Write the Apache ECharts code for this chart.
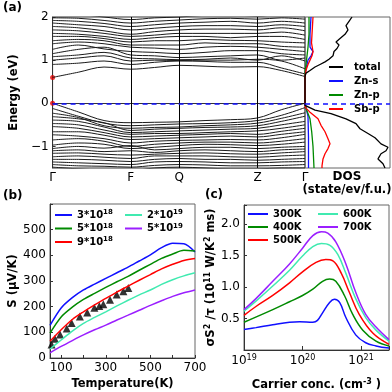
<!DOCTYPE html>
<html>
<head>
<meta charset="utf-8">
<script src="https://cdn.jsdelivr.net/npm/echarts@6/dist/echarts.min.js"></script>
<style>html,body{margin:0;padding:0;background:#fff}#main{width:392px;height:392px}</style>
</head>
<body>
<div id="main"></div>
<script>
// (a) band structure: k path positions and energies (eV)
var kPos = [0, 26, 52, 79, 103, 128, 154, 180, 207, 231, 255];
var kTicks = [0, 79, 128, 207, 255];
var kLabels = ['Γ', 'F', 'Q', 'Z', 'Γ'];
var bands = [
  [0.60, 0.72, 0.84, 0.79, 0.83, 0.88, 0.86, 0.84, 0.85, 0.76, 0.62],
  [0.90, 0.93, 0.98, 0.90, 0.95, 0.98, 0.97, 0.95, 0.95, 0.82, 0.68],
  [1.00, 1.05, 1.10, 0.98, 1.00, 0.99, 1.00, 1.00, 1.02, 0.98, 0.80],
  [1.08, 1.12, 1.18, 1.05, 1.03, 1.01, 1.02, 1.05, 1.00, 1.10, 0.98],
  [1.15, 1.25, 1.30, 1.12, 1.10, 1.06, 1.08, 1.10, 1.12, 1.00, 1.05],
  [1.25, 1.35, 1.26, 1.20, 1.18, 1.15, 1.18, 1.22, 1.22, 1.15, 1.12],
  [1.38, 1.42, 1.38, 1.30, 1.28, 1.25, 1.30, 1.32, 1.30, 1.25, 1.20],
  [1.45, 1.48, 1.45, 1.35, 1.35, 1.35, 1.40, 1.38, 1.38, 1.32, 1.30],
  [1.55, 1.55, 1.50, 1.42, 1.45, 1.45, 1.48, 1.46, 1.45, 1.42, 1.40],
  [1.62, 1.60, 1.55, 1.48, 1.52, 1.55, 1.55, 1.52, 1.55, 1.55, 1.48],
  [1.70, 1.68, 1.62, 1.55, 1.58, 1.62, 1.62, 1.62, 1.62, 1.65, 1.58],
  [1.78, 1.75, 1.68, 1.60, 1.66, 1.70, 1.72, 1.72, 1.70, 1.75, 1.68],
  [1.86, 1.82, 1.78, 1.70, 1.74, 1.78, 1.80, 1.80, 1.78, 1.82, 1.78],
  [1.92, 1.90, 1.85, 1.78, 1.82, 1.86, 1.88, 1.90, 1.86, 1.90, 1.86],
  [1.98, 1.97, 1.92, 1.86, 1.90, 1.93, 1.96, 1.97, 1.95, 1.98, 1.95],
  [2.05, 2.05, 2.00, 1.94, 1.98, 2.00, 2.04, 2.05, 2.02, 2.06, 2.03],
  [0.00, -0.20, -0.40, -0.45, -0.44, -0.43, -0.40, -0.38, -0.34, -0.15, 0.00],
  [-0.12, -0.30, -0.46, -0.52, -0.50, -0.48, -0.47, -0.45, -0.40, -0.28, -0.10],
  [-0.23, -0.33, -0.52, -0.58, -0.56, -0.55, -0.52, -0.50, -0.46, -0.35, -0.22],
  [-0.31, -0.36, -0.45, -0.63, -0.60, -0.58, -0.56, -0.55, -0.52, -0.42, -0.30],
  [-0.39, -0.42, -0.55, -0.68, -0.66, -0.64, -0.62, -0.60, -0.58, -0.50, -0.42],
  [-0.47, -0.50, -0.62, -0.72, -0.70, -0.70, -0.68, -0.66, -0.64, -0.58, -0.50],
  [-0.54, -0.58, -0.68, -0.78, -0.76, -0.74, -0.72, -0.70, -0.72, -0.65, -0.58],
  [-0.66, -0.66, -0.74, -0.84, -0.82, -0.80, -0.78, -0.76, -0.78, -0.72, -0.66],
  [-0.73, -0.76, -0.82, -0.92, -0.88, -0.86, -0.85, -0.84, -0.85, -0.80, -0.72],
  [-0.85, -0.82, -0.88, -1.00, -0.95, -0.92, -0.90, -0.90, -0.92, -0.88, -0.82],
  [-0.97, -0.92, -0.95, -1.05, -1.02, -0.98, -0.95, -0.96, -0.98, -0.95, -0.90],
  [-1.05, -1.00, -1.04, -0.98, -1.08, -1.05, -1.02, -1.02, -1.05, -1.02, -1.00],
  [-1.10, -1.08, -1.12, -1.10, -1.14, -1.10, -1.08, -1.10, -1.12, -1.08, -1.06],
  [-1.16, -1.15, -1.18, -1.20, -1.18, -1.16, -1.15, -1.17, -1.18, -1.15, -1.12],
  [-1.24, -1.22, -1.25, -1.28, -1.22, -1.22, -1.22, -1.24, -1.25, -1.22, -1.20],
  [-1.30, -1.30, -1.32, -1.35, -1.30, -1.28, -1.30, -1.30, -1.32, -1.30, -1.28],
  [-1.36, -1.38, -1.40, -1.42, -1.36, -1.35, -1.36, -1.38, -1.38, -1.36, -1.35],
  [-1.42, -1.45, -1.46, -1.48, -1.44, -1.42, -1.43, -1.45, -1.45, -1.44, -1.42],
  [-1.48, -1.52, -1.55, -1.56, -1.50, -1.48, -1.50, -1.52, -1.52, -1.50, -1.50]
];
var bandEdges = [[0, 0.6], [0, 0]];

// DOS curves (energy, dos)
var totE = [2.0, 1.9, 1.8, 1.7, 1.6, 1.5, 1.42, 1.35, 1.27, 1.2, 1.1, 1.02, 0.96, 0.9, 0.84, 0.76, 0.7, 0.62, 0.0, -0.05, -0.09, -0.16, -0.24, -0.36, -0.47, -0.59, -0.7, -0.8, -0.94, -1.02, -1.1, -1.17, -1.29, -1.4, -1.5];
var totD = [47, 44, 41, 43, 40, 35, 31, 34, 32, 29, 28, 24, 20, 15, 10, 5, 1, 0, 0, 0, 1, 10, 26, 41, 51, 55, 63, 70, 76, 83, 81, 76, 73, 78, 80];
var znsE = [2.0, 1.6, 1.3, 1.2, 1.1, 1.0, 0.8, 0.65, 0.0, -0.1, -0.3, -0.8, -1.5];
var znsD = [6, 5, 5, 8, 6, 3, 1, 0, 0, 1, 3, 3.5, 3.5];
var znpE = [2.0, 1.6, 1.3, 1.1, 0.9, 0.7, 0.0, -0.15, -0.36, -0.66, -1.0, -1.5];
var znpD = [4, 4, 3, 2, 1, 0, 0, 1.5, 5, 6.7, 8, 9];
var sbpE = [2.0, 1.8, 1.6, 1.4, 1.2, 1.1, 1.0, 0.9, 0.8, 0.7, 0.6, 0.0, -0.1, -0.2, -0.36, -0.51, -0.66, -0.82, -0.94, -1.05, -1.17, -1.29, -1.45, -1.5];
var sbpD = [8, 7.5, 7, 6.5, 8, 7, 5, 3, 1.5, 0.5, 0, 0, 0.5, 4.7, 13, 16, 20, 23, 25, 23, 20, 18, 17, 17];

// (b) Seebeck vs temperature
var temps = [50, 100, 150, 200, 250, 300, 350, 400, 450, 500, 550, 600, 650, 700];
var s3e18 = [127, 195, 235, 265, 288, 310, 332, 354, 378, 402, 430, 447, 445, 413];
var s5e18 = [97, 160, 198, 228, 252, 275, 297, 318, 342, 365, 388, 405, 420, 417];
var s9e18 = [65, 110, 150, 180, 207, 232, 257, 280, 303, 325, 347, 365, 380, 388];
var s2e19 = [35, 70, 105, 135, 158, 180, 203, 225, 246, 265, 287, 305, 320, 332];
var s5e19 = [20, 45, 68, 90, 110, 128, 148, 167, 186, 205, 223, 240, 254, 265];
var expT = [57, 72, 95, 125, 147, 184, 217, 249, 271, 289, 319, 349, 379, 401];
var expS = [53, 75, 92, 115, 136, 162, 177, 196, 203, 209, 227, 247, 260, 273];

// (c) power factor vs carrier concentration
var n300 = [1e19, 1.6e19, 3.1e19, 6e19, 8.9e19, 1.5e20, 1.8e20, 2.2e20, 2.9e20, 3.5e20, 4.3e20, 5.5e20, 8.1e20, 1.2e21, 1.8e21, 3e21];
var p300 = [0.325, 0.355, 0.40, 0.44, 0.45, 0.44, 0.47, 0.59, 0.755, 0.805, 0.755, 0.515, 0.24, 0.115, 0.065, 0.03];
var n400 = [1e19, 3.1e19, 6e19, 1e20, 1.5e20, 2.2e20, 2.9e20, 3.7e20, 5.2e20, 7.2e20, 1.07e21, 1.8e21, 3e21];
var p400 = [0.44, 0.64, 0.765, 0.865, 0.965, 1.09, 1.125, 1.09, 0.865, 0.565, 0.315, 0.14, 0.065];
var n500 = [1e19, 1.6e19, 3.1e19, 6e19, 1e20, 1.7e20, 2.5e20, 3.3e20, 4.6e20, 6.3e20, 9.3e20, 1.6e21, 3e21];
var p500 = [0.55, 0.69, 0.865, 1.065, 1.24, 1.39, 1.435, 1.415, 1.215, 0.915, 0.565, 0.265, 0.09];
var n600 = [1e19, 1.6e19, 3.1e19, 6e19, 1e20, 1.5e20, 2.1e20, 2.9e20, 4e20, 5.5e20, 8.1e20, 1.2e21, 1.8e21, 3e21];
var p600 = [0.615, 0.775, 1.015, 1.265, 1.49, 1.64, 1.69, 1.665, 1.515, 1.215, 0.815, 0.515, 0.315, 0.14];
var n700 = [1e19, 1.6e19, 3.1e19, 6e19, 1e20, 1.5e20, 2.1e20, 2.7e20, 3.7e20, 5.5e20, 8.1e20, 1.2e21, 1.8e21, 3e21];
var p700 = [0.64, 0.815, 1.09, 1.365, 1.615, 1.815, 1.875, 1.855, 1.715, 1.365, 0.915, 0.565, 0.365, 0.165];

var FONT = 'DejaVu Sans';
var BLUE = '#1010ff', GREEN = '#008a00', RED = '#ff0000', AQUA = '#40eab0', PURPLE = '#9b1fff';

function pairs(xs, ys) { return xs.map(function (x, i) { return [x, ys[i]]; }); }
function dos(es, ds) { return es.map(function (e, i) { return [ds[i], e]; }); }
function supName(name) { return name.replace(/\^(-?\d+)/g, '{s|$1}'); }

var series = [];
bands.forEach(function (b, i) {
  var s = {
    type: 'line', xAxisIndex: 0, yAxisIndex: 0, data: pairs(kPos, b),
    smooth: 0.35, symbol: 'none', silent: true,
    lineStyle: { color: '#1a1a1a', width: 1 }
  };
  if (i === 0) {
    s.markLine = {
      silent: true, symbol: 'none', label: { show: false },
      data: [
        { xAxis: 79, lineStyle: { color: '#000', width: 1, type: 'solid' } },
        { xAxis: 128, lineStyle: { color: '#000', width: 1, type: 'solid' } },
        { xAxis: 207, lineStyle: { color: '#000', width: 1, type: 'solid' } },
        { yAxis: 0, lineStyle: { color: BLUE, width: 1.5, type: [5, 4] } }
      ]
    };
  }
  series.push(s);
});
series.push({ type: 'scatter', xAxisIndex: 0, yAxisIndex: 0, data: bandEdges, symbolSize: 5, clip: false, itemStyle: { color: '#e00000' }, silent: true });

function dosLine(name, es, ds, color, extra) {
  var s = { name: name, type: 'line', xAxisIndex: 1, yAxisIndex: 1, data: dos(es, ds), symbol: 'none', lineStyle: { color: color, width: 1.3 }, itemStyle: { color: color }, silent: true };
  if (extra) s.markLine = extra;
  return s;
}
series.push(dosLine('Zn-s', znsE, znsD, BLUE));
series.push(dosLine('Zn-p', znpE, znpD, GREEN));
series.push(dosLine('Sb-p', sbpE, sbpD, RED));
series.push(dosLine('total', totE, totD, '#000', {
  silent: true, symbol: 'none', label: { show: false },
  data: [{ yAxis: 0, lineStyle: { color: BLUE, width: 1.5, type: [5, 4] } }]
}));

function tLine(name, ys, color) {
  return { name: name, type: 'line', xAxisIndex: 2, yAxisIndex: 2, data: pairs(temps, ys), smooth: 0.3, symbol: 'none', lineStyle: { color: color, width: 1.5 }, itemStyle: { color: color } };
}
series.push(tLine('3*10^18', s3e18, BLUE));
series.push(tLine('5*10^18', s5e18, GREEN));
series.push(tLine('9*10^18', s9e18, RED));
series.push(tLine('2*10^19', s2e19, AQUA));
series.push(tLine('5*10^19', s5e19, PURPLE));
series.push({ type: 'scatter', xAxisIndex: 2, yAxisIndex: 2, data: pairs(expT, expS), symbol: 'triangle', symbolSize: 8, itemStyle: { color: '#000' } });

function nLine(name, xs, ys, color) {
  return { name: name, type: 'line', xAxisIndex: 3, yAxisIndex: 3, data: pairs(xs, ys), smooth: 0.4, symbol: 'none', lineStyle: { color: color, width: 1.5 }, itemStyle: { color: color } };
}
series.push(nLine('300K', n300, p300, BLUE));
series.push(nLine('400K', n400, p400, GREEN));
series.push(nLine('500K', n500, p500, RED));
series.push(nLine('600K', n600, p600, AQUA));
series.push(nLine('700K', n700, p700, PURPLE));

var tickLbl = { color: '#000', fontSize: 12, fontFamily: FONT };
var nameStyle = { color: '#000', fontSize: 11.5, fontWeight: 'bold', fontFamily: FONT };
var axLine = { show: true, lineStyle: { color: '#333', width: 1 } };
var supRich = { s: { fontSize: 8, fontWeight: 'bold', fontFamily: FONT, color: '#000', verticalAlign: 'top', padding: [0, 0, 6, 0] } };

function legend(names, left, top, w, gap) {
  return {
    data: names, orient: 'vertical', left: left, top: top, icon: 'rect',
    itemWidth: w, itemHeight: 2, itemGap: gap, selectedMode: false, padding: 0,
    formatter: supName,
    textStyle: {
      color: '#000', fontSize: 10, fontWeight: 'bold', fontFamily: FONT, lineHeight: 12,
      rich: { s: { fontSize: 7, fontWeight: 'bold', fontFamily: FONT, verticalAlign: 'top', lineHeight: 12 } }
    }
  };
}

var option = {
  animation: false,
  backgroundColor: '#fff',
  grid: [
    { left: 50, top: 17, width: 255, height: 151, show: true, borderColor: '#333', borderWidth: 1 },
    { left: 305, top: 17, width: 85, height: 151, show: true, borderColor: '#666', borderWidth: 1 },
    { left: 50, top: 204, width: 145, height: 154, show: true, borderColor: '#666', borderWidth: 1 },
    { left: 244, top: 205, width: 146, height: 153, show: true, borderColor: '#666', borderWidth: 1 }
  ],
  xAxis: [
    { type: 'value', gridIndex: 0, min: 0, max: 255, splitLine: { show: false }, axisLine: axLine,
      axisTick: { show: false },
      axisLabel: Object.assign({ customValues: kTicks, margin: 4, formatter: function (v) { return kLabels[kTicks.indexOf(v)]; } }, tickLbl) },
    { type: 'value', gridIndex: 1, min: 0, max: 85, show: false },
    { type: 'value', gridIndex: 2, min: 50, max: 700, splitLine: { show: false }, axisLine: axLine,
      axisTick: { inside: true, length: 3, customValues: [100, 200, 300, 400, 500, 600, 700] },
      axisLabel: Object.assign({ customValues: [100, 300, 500, 700], margin: 4 }, tickLbl),
      name: 'Temperature(K)', nameLocation: 'middle', nameGap: 20, nameTextStyle: nameStyle },
    { type: 'log', logBase: 10, gridIndex: 3, min: 1e19, max: 3e21, splitLine: { show: false }, axisLine: axLine,
      axisTick: { inside: true, length: 4 }, minorTick: { show: false },
      axisLabel: Object.assign({ margin: 4,
        formatter: function (v) {
          var e = Math.log10(v);
          if (Math.abs(e - Math.round(e)) > 1e-6) return '';
          return '10{s|' + Math.round(e) + '}';
        },
        rich: { s: { fontSize: 8, fontFamily: FONT, color: '#000', verticalAlign: 'top', padding: [0, 0, 6, 0] } } }, tickLbl),
      name: 'Carrier conc. (cm{s|-3} )', nameLocation: 'middle', nameGap: 28,
      nameTextStyle: Object.assign({ rich: supRich }, nameStyle) }
  ],
  yAxis: [
    { type: 'value', gridIndex: 0, min: -1.5, max: 2, splitLine: { show: false }, axisLine: axLine,
      axisTick: { inside: true, length: 3, customValues: [-1, 0, 1, 2] },
      axisLabel: Object.assign({ customValues: [-1, 0, 1, 2], margin: 4, formatter: function (v) { return v < 0 ? '\u2212' + (-v) : String(v); } }, tickLbl),
      name: 'Energy (eV)', nameLocation: 'middle', nameGap: 20, nameTextStyle: nameStyle },
    { type: 'value', gridIndex: 1, min: -1.5, max: 2, show: false },
    { type: 'value', gridIndex: 2, min: 0, max: 600, interval: 100, splitLine: { show: false }, axisLine: axLine,
      axisTick: { inside: true, length: 3 },
      axisLabel: Object.assign({ margin: 4, formatter: function (v) { return v === 600 ? '' : String(v); } }, tickLbl),
      name: 'S (\u03bcV/K)', nameLocation: 'middle', nameGap: 28, nameTextStyle: nameStyle },
    { type: 'value', gridIndex: 3, min: 0, max: 2.3, interval: 0.5, splitLine: { show: false }, axisLine: axLine,
      axisTick: { inside: true, length: 3 },
      axisLabel: Object.assign({ margin: 4, formatter: function (v) { return (v === 0 || v > 2.05) ? '' : v.toFixed(1); } }, tickLbl),
      name: '\u03c3S{s|2} /\u03c4 (10{s|11} W/K{s|2} ms)', nameLocation: 'middle', nameGap: 24,
      nameTextStyle: Object.assign({ rich: supRich }, nameStyle) }
  ],
  legend: [
    (function () { var l = legend(['total', 'Zn-s', 'Zn-p', 'Sb-p'], 329, 61, 14, 2); l.textStyle.padding = [0, 0, 0, 6]; return l; })(),
    legend(['3*10^18', '5*10^18', '9*10^18'], 55, 209, 17, 1.5),
    legend(['2*10^19', '5*10^19'], 125, 209, 17, 1.5),
    legend(['300K', '400K', '500K'], 248, 208, 20, 1),
    legend(['600K', '700K'], 318, 208, 20, 1)
  ],
  graphic: [
    { type: 'text', left: 3, top: 2, style: { text: '(a)', font: 'bold 12px ' + FONT, fill: '#000' } },
    { type: 'text', left: 3, top: 190, style: { text: '(b)', font: 'bold 12px ' + FONT, fill: '#000' } },
    { type: 'text', left: 205, top: 189, style: { text: '(c)', font: 'bold 12px ' + FONT, fill: '#000' } },
    { type: 'text', x: 347, y: 177, style: { text: 'DOS', font: 'bold 12px ' + FONT, fill: '#000', align: 'center', verticalAlign: 'middle' } },
    { type: 'text', x: 347, y: 190, style: { text: '(state/ev/f.u.)', font: 'bold 11.5px ' + FONT, fill: '#000', align: 'center', verticalAlign: 'middle' } }
  ],
  series: series
};

var myChart = echarts.init(document.getElementById('main'));
myChart.setOption(option);
</script>
</body>
</html>
